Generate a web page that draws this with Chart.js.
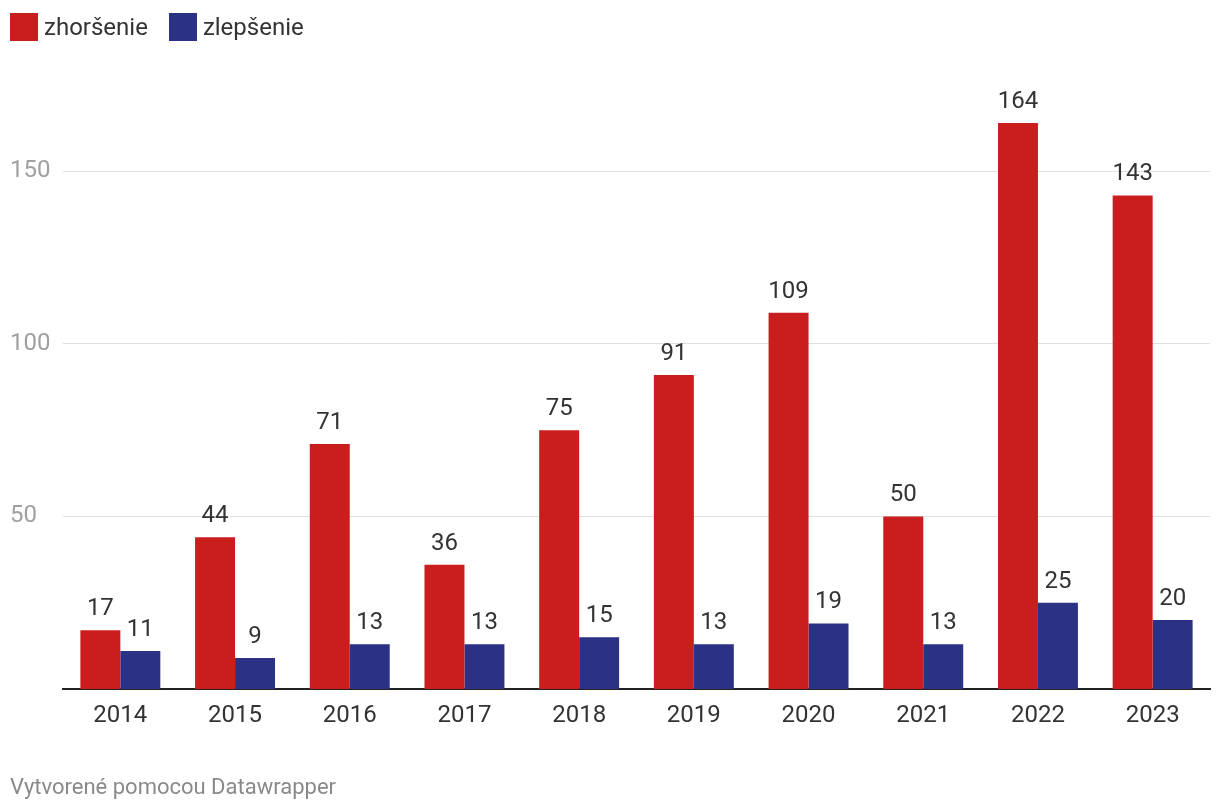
<!DOCTYPE html>
<html>
<head>
<meta charset="utf-8">
<script src="https://cdn.jsdelivr.net/npm/chart.js@4"></script>
<style>
  html, body { margin: 0; padding: 0; background: #fff; }
  body { width: 1220px; height: 812px; position: relative; overflow: hidden; font-family: Roboto, sans-serif; }
  #legend { position: absolute; left: 10px; top: 13px; display: flex; align-items: center; font-size: 24px; line-height: 28px; color: #333; }
  .item { display: flex; align-items: center; margin-right: 21px; }
  .swatch { width: 28px; height: 28px; margin-right: 6px; }
  #footer { position: absolute; left: 10px; top: 774px; font-size: 22px; color: #8a8a8a; }
  #wrap { position: absolute; left: 0; top: 0; width: 1220px; height: 812px; }
</style>
</head>
<body>
<div id="wrap"><canvas id="myChart"></canvas></div>
<div id="legend">
  <div class="item"><div class="swatch" style="background:#c91d1e"></div>zhoršenie</div>
  <div class="item"><div class="swatch" style="background:#2b3184"></div>zlepšenie</div>
</div>
<div id="footer">Vytvorené pomocou Datawrapper</div>
<script>
const years = ['2014', '2015', '2016', '2017', '2018', '2019', '2020', '2021', '2022', '2023'];
const zhorsenie = [17, 44, 71, 36, 75, 91, 109, 50, 164, 143];
const zlepsenie = [11, 9, 13, 13, 15, 13, 19, 13, 25, 20];
const yTicks = [50, 100, 150];

document.addEventListener("DOMContentLoaded", () => {
    const ctx = document.getElementById('myChart').getContext('2d');

    const valueLabels = {
        id: 'valueLabels',
        afterDatasetsDraw(chart) {
            const c = chart.ctx;
            c.save();
            c.font = '24px Roboto';
            c.fillStyle = '#333';
            c.textAlign = 'center';
            c.textBaseline = 'alphabetic';
            chart.data.datasets.forEach((ds, i) => {
                chart.getDatasetMeta(i).data.forEach((bar, j) => {
                    c.fillText(ds.data[j], bar.x, bar.y - 15);
                });
            });
            c.restore();
        }
    };

    new Chart(ctx, {
        type: 'bar',
        data: {
            labels: years,
            datasets: [
                { label: 'zhoršenie', data: zhorsenie, backgroundColor: '#c91d1e' },
                { label: 'zlepšenie', data: zlepsenie, backgroundColor: '#2b3184' }
            ]
        },
        options: {
            responsive: true,
            maintainAspectRatio: false,
            animation: false,
            layout: { padding: { left: 10, right: 10, top: 85, bottom: 73 } },
            datasets: { bar: { categoryPercentage: 0.697, barPercentage: 1 } },
            plugins: {
                legend: { display: false },
                tooltip: { enabled: false }
            },
            scales: {
                x: {
                    grid: { display: false, drawTicks: false },
                    border: { display: true, color: '#222', width: 2 },
                    ticks: { color: '#333', font: { size: 24, family: 'Roboto' }, padding: 13 },
                    afterFit: axis => { axis.height = 50; }
                },
                y: {
                    min: 0,
                    max: 175,
                    grid: { color: '#e0e0e0', lineWidth: 1, drawTicks: false },
                    border: { display: false },
                    ticks: {
                        stepSize: 50,
                        color: '#a0a0a0',
                        crossAlign: 'far',
                        padding: 0,
                        font: { size: 24, family: 'Roboto' }
                    },
                    afterBuildTicks: axis => {
                        axis.ticks = yTicks.map(v => ({ value: v }));
                    },
                    afterFit: axis => { axis.width = 53; }
                }
            }
        },
        plugins: [valueLabels]
    });
});
</script>
</body>
</html>
